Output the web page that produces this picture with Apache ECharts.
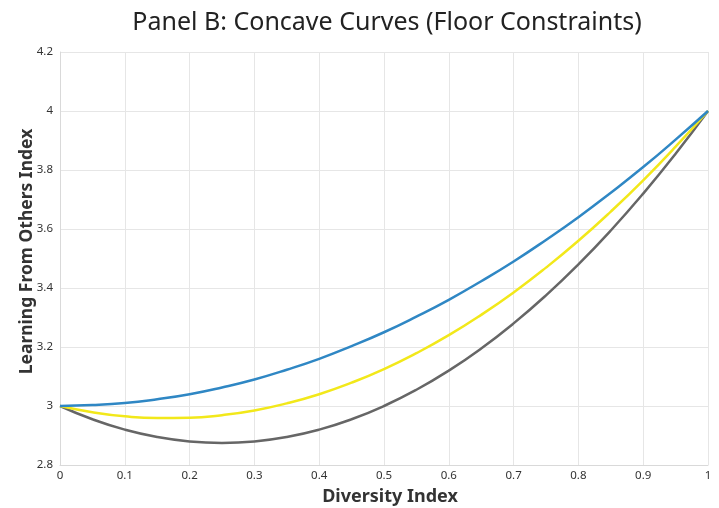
<!DOCTYPE html>
<html><head><meta charset="utf-8">
<script src="https://cdn.jsdelivr.net/npm/echarts@6/dist/echarts.min.js"></script>
<style>html,body{margin:0;padding:0;background:#fff}#c{width:719px;height:508px}</style>
</head><body><div id="c"></div>
<script>
const xValues = [0,0.05,0.1,0.15,0.2,0.25,0.3,0.35,0.4,0.45,0.5,0.55,0.6,0.65,0.7,0.75,0.8,0.85,0.9,0.95,1];
const blueValues = [3,3.003,3.01,3.023,3.04,3.063,3.09,3.123,3.16,3.203,3.25,3.303,3.36,3.423,3.49,3.563,3.64,3.723,3.81,3.903,4];
const yellowValues = [3,2.979,2.965,2.959,2.96,2.969,2.985,3.009,3.04,3.079,3.125,3.179,3.24,3.309,3.385,3.469,3.56,3.659,3.765,3.879,4];
const grayValues = [3,2.955,2.92,2.895,2.88,2.875,2.88,2.895,2.92,2.955,3,3.055,3.12,3.195,3.28,3.375,3.48,3.595,3.72,3.855,4];
const FONT = 'Noto Sans';
function pairs(v){ return xValues.map((x,i)=>[x,v[i]]); }
const chart = echarts.init(document.getElementById('c'));
function line(data,color){
  return {type:'line',data:pairs(data),smooth:true,showSymbol:false,symbol:'none',
    lineStyle:{color:color,width:2.5},itemStyle:{color:color}};
}
chart.setOption({
  animation:false,
  textStyle:{fontFamily:FONT},
  title:{text:'Panel B: Concave Curves (Floor Constraints)',left:382,top:5,textAlign:'center',
    textStyle:{fontFamily:FONT,fontSize:25,fontWeight:'normal',color:'#222'}},
  grid:{left:60,right:11,top:52,bottom:43,containLabel:false,outerBoundsMode:'none'},
  xAxis:{type:'value',min:0,max:1,interval:0.1,
    name:'Diversity Index',nameLocation:'middle',nameGap:23,nameMoveOverlap:false,
    nameTextStyle:{fontFamily:FONT,fontSize:18,fontWeight:'bold',color:'#333',padding:[0,0,0,12]},
    axisLine:{lineStyle:{color:'#d9d9d9'}},axisTick:{show:false},
    axisLabel:{fontSize:11.5,color:'#333',margin:5},
    splitLine:{lineStyle:{color:'#e6e6e6'}}},
  yAxis:{type:'value',min:2.8,max:4.2,interval:0.2,
    name:'Learning From Others Index',nameLocation:'middle',nameGap:24,nameMoveOverlap:false,
    nameTextStyle:{fontFamily:FONT,fontSize:17.5,fontWeight:'bold',color:'#333',padding:[0,0,0,14]},
    axisLine:{show:true,lineStyle:{color:'#d9d9d9'}},axisTick:{show:false},
    axisLabel:{fontSize:11.5,color:'#333',margin:7},
    splitLine:{lineStyle:{color:'#e6e6e6'}}},
  series:[line(grayValues,'#666666'),line(yellowValues,'#f2e81a'),line(blueValues,'#2f87c4')]
});
</script></body></html>
